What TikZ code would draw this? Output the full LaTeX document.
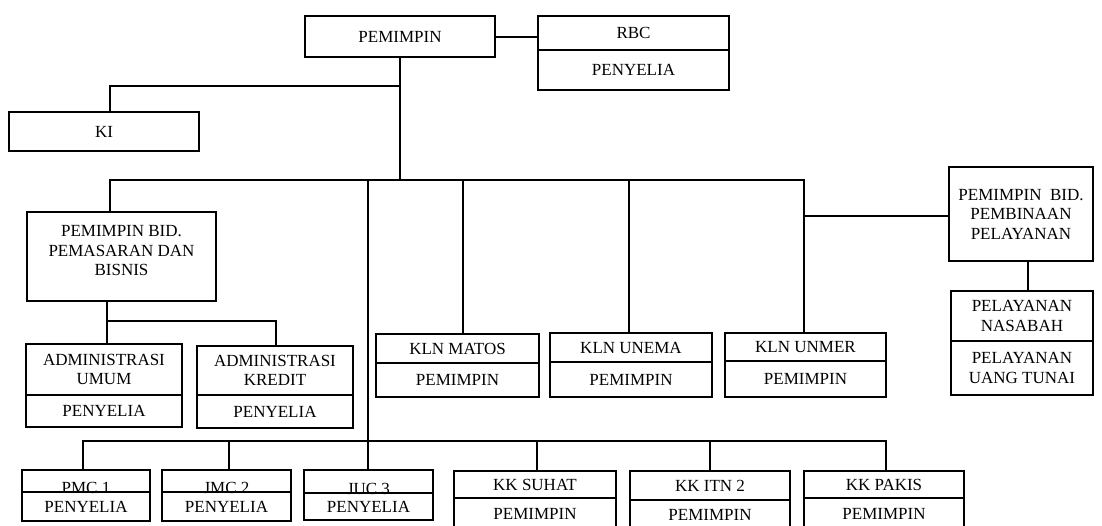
\documentclass[tikz,border=0pt]{standalone}
\usepackage{fontspec}
\setmainfont{Liberation Serif}
\newcommand{\bx}[6]{\node[box,minimum width={(#3)-(#2)},minimum height={(#5)-(#4)}] (#1) at ({((#2)+(#3))/2},{((#4)+(#5))/2}) {#6};}
\begin{document}
\begin{tikzpicture}[x=1pt,y=-1pt,
  box/.style={draw, line width=1.3pt, fill=white, inner sep=0pt, align=center, font=\fontsize{17}{19.5}\selectfont},
  lbl/.style={inner sep=0pt, font=\fontsize{17}{19.5}\selectfont},
  conn/.style={line width=1.3pt},
  heavy/.style={line width=2.4pt}]
\useasboundingbox (0,0) rectangle (1102,526);
\clip (0,0) rectangle (1102,526);
\fill[white] (0,0) rectangle (1102,526);

% coordinates for junctions
\coordinate (kiT) at (110,86);
\coordinate (busL) at (110,180);
\coordinate (busR) at (804,180);
\coordinate (matX) at (463,180);
\coordinate (subL) at (107,321);
\coordinate (subR) at (276,321);
\coordinate (bL) at (83,441);
\coordinate (bR) at (886,441);
\coordinate (jmcX) at (229,441);
\coordinate (suhX) at (537,441);
\coordinate (itnX) at (710,441);

% connectors (drawn first, boxes cover ends)
\draw[conn] (400,57) -- (400,180);
\draw[conn] (400,86) -- (kiT) -- (110,112);
\draw[conn] (busL |- 0,212) -- (busL) -- (busR) -- (busR |- 0,333);
\draw[conn] (368,180) -- (368,470);
\draw[conn] (matX) -- (463,334);
\draw[conn] (629,180) -- (629,333);
\draw[heavy] (804,216) -- (949,216);
\draw[heavy] (1028,261) -- (1028,291);
\draw[heavy] (495,37) -- (538,37);
\draw[conn] (107,301) -- (subL) -- (subR) -- (276,346);
\draw[conn] (subL) -- (107,344);
\draw[conn] (bL |- 0,470) -- (bL) -- (bR) -- (bR |- 0,471);
\draw[conn] (jmcX) -- (229,470);
\draw[conn] (suhX) -- (537,471);
\draw[conn] (itnX) -- (710,471);

% boxes
\bx{pem}{305}{495}{16}{57}{PEMIMPIN}
\bx{rbcT}{538}{729}{16}{50}{RBC}
\bx{rbcB}{538}{729}{50}{90}{PENYELIA}
\bx{ki}{9}{199}{112}{151}{KI}
\bx{pbpb}{27}{216}{212}{301}{PEMIMPIN BID.\\PEMASARAN DAN\\BISNIS\\[-8pt]}
\bx{admuT}{26}{182}{344}{395}{ADMINISTRASI\\UMUM}
\bx{admuB}{26}{182}{395}{427}{PENYELIA}
\bx{admkT}{197}{353}{346}{395}{ADMINISTRASI\\KREDIT}
\bx{admkB}{197}{353}{395}{428}{PENYELIA}
\bx{matT}{376}{539}{334}{363}{KLN MATOS}
\bx{matB}{376}{539}{363}{397}{PEMIMPIN}
\bx{uneT}{550}{712}{333}{362}{KLN UNEMA}
\bx{uneB}{550}{712}{362}{397}{PEMIMPIN}
\bx{umrT}{725}{886}{333}{361}{KLN UNMER}
\bx{umrB}{725}{886}{361}{397}{PEMIMPIN}
\bx{pbpp}{949}{1093}{167}{261}{PEMIMPIN~~BID.\\PEMBINAAN\\PELAYANAN}
\bx{pnT}{951}{1093}{291}{341}{PELAYANAN\\NASABAH}
\bx{pnB}{951}{1093}{341}{395}{PELAYANAN\\UANG TUNAI}
\bx{pmcT}{22}{150}{470}{492}{}
\bx{pmcB}{22}{150}{492}{521}{PENYELIA}
\bx{jmcT}{162}{291}{470}{492}{}
\bx{jmcB}{162}{291}{492}{521}{PENYELIA}
\bx{jucT}{304}{433}{470}{493}{}
\bx{jucB}{304}{433}{493}{520}{PENYELIA}
\node[lbl,anchor=base] (pmcL) at (86,493) {PMC 1};
\node[lbl,anchor=base] (jmcL) at (226.5,493) {JMC 2};
\node[lbl,anchor=base] (jucL) at (368.5,494) {JUC 3};
\draw[conn] (pmcT.south west) -- (pmcT.south east);
\draw[conn] (jmcT.south west) -- (jmcT.south east);
\draw[conn] (jucT.south west) -- (jucT.south east);
\bx{suhT}{454}{616}{471}{498}{KK SUHAT}
\bx{suhB}{454}{616}{498}{530}{PEMIMPIN}
\bx{itnT}{630}{790}{471}{500}{KK ITN 2}
\bx{itnB}{630}{790}{500}{530}{PEMIMPIN}
\bx{pakT}{804}{964}{471}{498}{KK PAKIS}
\bx{pakB}{804}{964}{498}{530}{PEMIMPIN}
\end{tikzpicture}
\end{document}
